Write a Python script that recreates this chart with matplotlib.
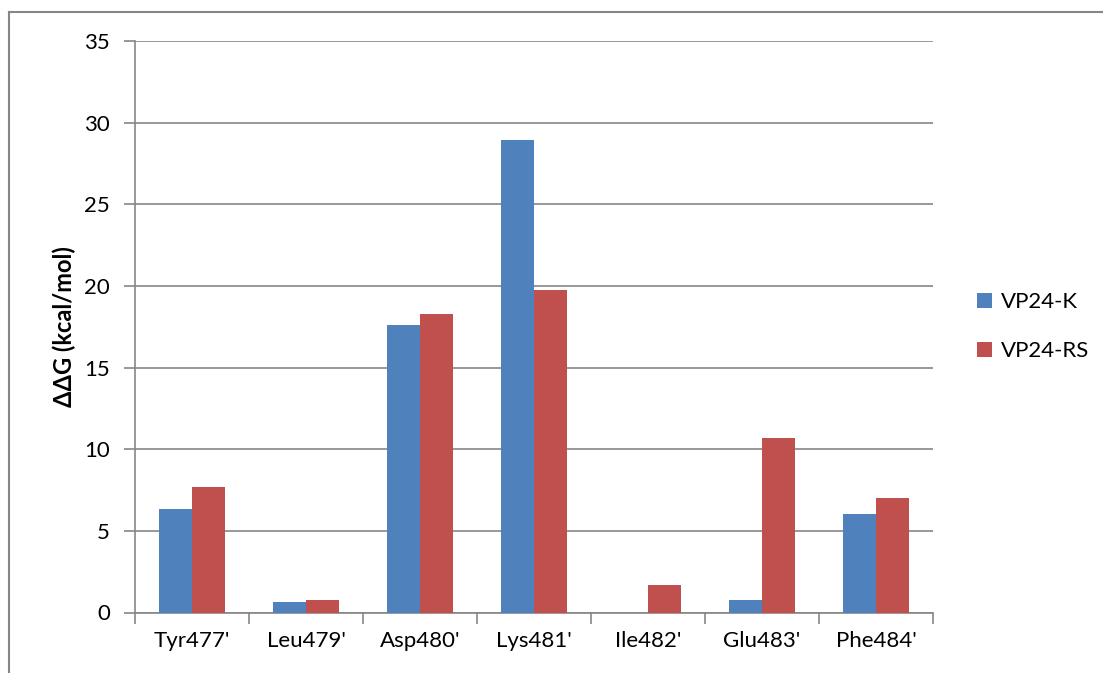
import matplotlib
matplotlib.use('Agg')
import matplotlib.pyplot as plt
import numpy as np

residues = ["Tyr477'", "Leu479'", "Asp480'", "Lys481'", "Ile482'", "Glu483'", "Phe484'"]
vp24_k = [6.33, 0.62, 17.58, 28.94, 0.0, 0.79, 6.02]
vp24_rs = [7.68, 0.77, 18.31, 19.74, 1.67, 10.69, 7.0]
y_ticks = [0, 5, 10, 15, 20, 25, 30, 35]

plt.rcParams['font.family'] = ['Lato', 'DejaVu Sans']

fig = plt.figure(figsize=(11.03, 6.73), dpi=100)
ax = fig.add_axes([135 / 1103, 1 - 612.5 / 673, (933 - 135) / 1103, (612.5 - 41) / 673])

grey = '#868686'
x = np.arange(len(residues))
w = 1 / 3.5
ax.bar(x - w / 2, vp24_k, w, color='#4F81BD', label='VP24-K', zorder=3)
ax.bar(x + w / 2, vp24_rs, w, color='#C0504D', label='VP24-RS', zorder=3)

ax.set_xlim(-0.5, len(residues) - 0.5)
ax.set_ylim(0, 35)
ax.set_yticks(y_ticks)
ax.yaxis.grid(True, color=grey, linewidth=1.2, zorder=0)

# category labels centred, tick marks on the boundaries
ax.set_xticks(x)
ax.set_xticklabels(residues, fontsize=16)
ax.tick_params(axis='x', length=0, pad=13)
ax.set_xticks(np.arange(-0.5, len(residues)), minor=True)
ax.tick_params(axis='x', which='minor', length=8, width=1.2, color=grey)
ax.tick_params(axis='y', length=8, width=1.2, color=grey, labelsize=16, pad=10)

for side in ['top', 'right']:
    ax.spines[side].set_visible(False)
for side in ['left', 'bottom']:
    ax.spines[side].set_color(grey)
    ax.spines[side].set_linewidth(1.2)

ax.set_ylabel('ΔΔG (kcal/mol)', fontsize=17, fontweight='bold', labelpad=6)

ax.legend(loc='center left', bbox_to_anchor=(1.03, 0.5), frameon=False,
          fontsize=16, handlelength=0.7, handleheight=0.7, labelspacing=1.3,
          handletextpad=0.4)

# chart frame
fig.add_artist(plt.Line2D([9 / 1103, 9 / 1103], [0, 1 - 12 / 673],
                          transform=fig.transFigure, color=grey, linewidth=1.5))
fig.add_artist(plt.Line2D([9 / 1103, 1], [1 - 12 / 673, 1 - 12 / 673],
                          transform=fig.transFigure, color=grey, linewidth=1.5))

fig.savefig('out.png', dpi=100)
